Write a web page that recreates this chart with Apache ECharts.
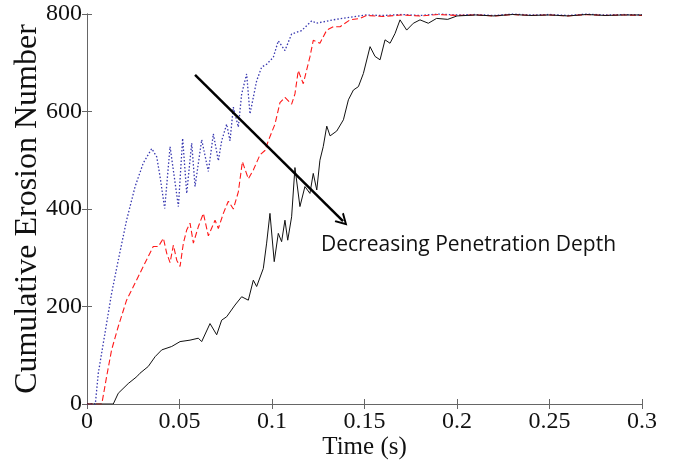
<!DOCTYPE html>
<html>
<head>
<meta charset="utf-8">
<script src="https://cdn.jsdelivr.net/npm/echarts@6/dist/echarts.min.js"></script>
<style>
  html, body { margin: 0; padding: 0; background: #fff; }
  #chart { width: 674px; height: 463px; }
</style>
</head>
<body>
<div id="chart"></div>
<script>
// time (s) and cumulative erosion number
var blueT = [0, 0.0045, 0.0061, 0.0097, 0.0133, 0.0169, 0.0214, 0.026, 0.0304, 0.035, 0.0377, 0.0395, 0.042, 0.0449, 0.0494, 0.0517, 0.0539, 0.0566, 0.0584, 0.062, 0.0656, 0.0683, 0.071, 0.0728, 0.0755, 0.0773, 0.0791, 0.0818, 0.0836, 0.0863, 0.0881, 0.0917, 0.0944, 0.0971, 0.1007, 0.1034, 0.107, 0.1106, 0.116, 0.1215, 0.124, 0.133, 0.14, 0.151, 0.16, 0.17, 0.18, 0.19, 0.2, 0.21, 0.22, 0.23, 0.24, 0.25, 0.26, 0.27, 0.28, 0.29, 0.3];
var blueV = [0, 0, 63, 145, 227, 295, 377, 446, 494, 524, 507, 466, 401, 528, 405, 545, 432, 535, 446, 542, 477, 554, 499, 540, 574, 540, 609, 568, 636, 677, 595, 663, 691, 697, 711, 745, 725, 759, 766, 786, 781, 788, 792, 798, 797, 799, 797, 800, 798, 799, 797, 800, 798, 799, 797, 800, 798, 799, 798];

var redT = [0, 0.008, 0.0106, 0.0133, 0.0169, 0.0214, 0.026, 0.0304, 0.0358, 0.0386, 0.0413, 0.0431, 0.0449, 0.0467, 0.0485, 0.0503, 0.0521, 0.0539, 0.0557, 0.0575, 0.0602, 0.0629, 0.0656, 0.0692, 0.071, 0.0737, 0.0764, 0.0791, 0.0818, 0.084, 0.0872, 0.0899, 0.0935, 0.0962, 0.098, 0.1016, 0.1043, 0.107, 0.1106, 0.1124, 0.1142, 0.1169, 0.1205, 0.1223, 0.1259, 0.1296, 0.1332, 0.1368, 0.1422, 0.1476, 0.1512, 0.16, 0.17, 0.18, 0.19, 0.2, 0.21, 0.22, 0.23, 0.24, 0.25, 0.26, 0.27, 0.28, 0.29, 0.3];
var redV = [0, 0, 56, 111, 159, 213, 248, 282, 323, 323, 340, 309, 290, 326, 295, 282, 330, 357, 371, 330, 364, 391, 345, 377, 360, 391, 416, 400, 435, 497, 462, 480, 511, 520, 540, 574, 618, 629, 615, 636, 684, 657, 712, 746, 740, 767, 774, 774, 788, 791, 797, 795, 798, 796, 799, 797, 798, 796, 799, 797, 798, 796, 799, 797, 798, 797];

var blackT = [0, 0.0142, 0.0169, 0.0223, 0.0269, 0.0286, 0.0331, 0.0368, 0.0404, 0.0458, 0.0503, 0.0557, 0.0602, 0.062, 0.0665, 0.0701, 0.0728, 0.0755, 0.08, 0.0836, 0.0872, 0.0899, 0.0917, 0.0953, 0.0971, 0.0989, 0.1012, 0.1034, 0.1052, 0.107, 0.1085, 0.1106, 0.1124, 0.1151, 0.1178, 0.1205, 0.1223, 0.1242, 0.1259, 0.1277, 0.1296, 0.1314, 0.135, 0.1386, 0.1413, 0.144, 0.1467, 0.1494, 0.153, 0.1557, 0.1584, 0.1611, 0.1638, 0.1665, 0.1692, 0.1728, 0.1764, 0.18, 0.1845, 0.189, 0.195, 0.2, 0.21, 0.22, 0.23, 0.24, 0.25, 0.26, 0.27, 0.28, 0.29, 0.3];
var blackV = [0, 0, 22, 42, 56, 63, 77, 97, 111, 118, 128, 131, 135, 128, 165, 142, 172, 179, 203, 220, 213, 254, 241, 278, 330, 391, 292, 350, 333, 377, 336, 384, 485, 405, 446, 432, 473, 439, 500, 528, 570, 550, 560, 583, 624, 644, 651, 678, 733, 713, 706, 747, 740, 760, 788, 767, 781, 788, 781, 791, 789, 796, 798, 796, 799, 797, 798, 796, 799, 797, 798, 798];

// arrow from upper-left to lower-right (time, value)
var arrowFrom = [0.0584, 675];
var arrowTo = [0.1384, 375];

function zip(t, v) {
    var out = [];
    for (var i = 0; i < t.length; i++) out.push([t[i], v[i]]);
    return out;
}

var serif = 'Liberation Serif';
var axisGray = '#666';

var myChart = echarts.init(document.getElementById('chart'));

myChart.setOption({
    animation: false,
    grid: { left: 87, right: 32, top: 14, bottom: 59, outerBoundsMode: 'none', containLabel: false },
    xAxis: [
        {
            type: 'value', min: 0, max: 0.3, interval: 0.05,
            name: 'Time (s)', nameLocation: 'middle', nameGap: 31, nameMoveOverlap: false,
            nameTextStyle: { fontFamily: serif, fontSize: 25, color: '#111' },
            axisLine: { lineStyle: { color: axisGray } },
            axisTick: { inside: true, length: 5, lineStyle: { color: axisGray } },
            axisLabel: { fontFamily: serif, fontSize: 24, color: '#111', margin: 6 },
            splitLine: { show: false }
        },
        {
            type: 'value', min: 0, max: 0.3, interval: 0.05, position: 'top',
            axisLine: { lineStyle: { color: axisGray } },
            axisTick: { inside: true, length: 5, lineStyle: { color: axisGray } },
            axisLabel: { show: false },
            splitLine: { show: false }
        }
    ],
    yAxis: [
        {
            type: 'value', min: 0, max: 800, interval: 200,
            name: 'Cumulative Erosion Number', nameLocation: 'middle', nameGap: 43, nameMoveOverlap: false,
            nameTextStyle: { fontFamily: serif, fontSize: 32, color: '#111' },
            axisLine: { show: true, lineStyle: { color: axisGray } },
            axisTick: { show: true, inside: true, length: 5, lineStyle: { color: axisGray } },
            axisLabel: { fontFamily: serif, fontSize: 24, color: '#111', margin: 5 },
            splitLine: { show: false }
        },
        {
            type: 'value', min: 0, max: 800, interval: 200, position: 'right',
            axisLine: { show: true, lineStyle: { color: axisGray } },
            axisTick: { show: true, inside: true, length: 5, lineStyle: { color: axisGray } },
            axisLabel: { show: false },
            splitLine: { show: false }
        }
    ],
    series: [
        {
            type: 'line', data: zip(blueT, blueV), showSymbol: false,
            lineStyle: { color: '#3838b0', width: 1.3, type: [1.5, 2] }
        },
        {
            type: 'line', data: zip(redT, redV), showSymbol: false,
            lineStyle: { color: '#ff1a1a', width: 1.1, type: [6, 3] }
        },
        {
            type: 'line', data: zip(blackT, blackV), showSymbol: false,
            lineStyle: { color: '#111', width: 1 },
            markLine: {
                silent: true,
                symbol: ['none', 'path://M5,0 L10,10 L8.6,10.6 L5,3.4 L1.4,10.6 L0,10 Z'],
                symbolSize: [13, 12],
                label: { show: false },
                lineStyle: { color: '#000', width: 2.5, type: 'solid' },
                data: [[{ coord: arrowFrom }, { coord: arrowTo }]]
            }
        }
    ],
    graphic: [
        {
            type: 'text', left: 321, top: 235,
            style: { text: 'Decreasing Penetration Depth', font: '21px "Open Sans"', fill: '#111' }
        }
    ]
});
</script>
</body>
</html>
